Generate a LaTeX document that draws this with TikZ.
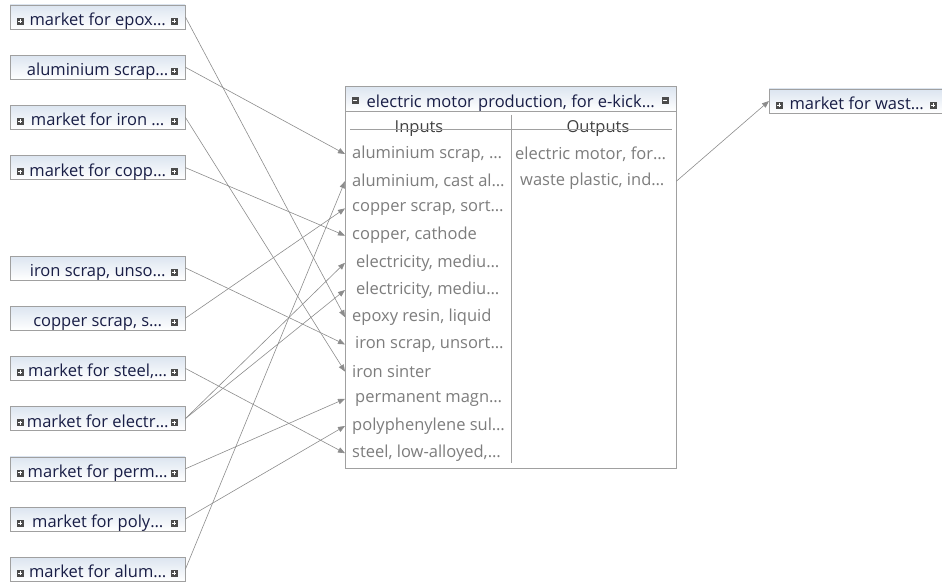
\documentclass[tikz,border=0pt]{standalone}
\usepackage{fontspec}
\setmainfont{Open Sans}
\usepackage{xcolor}
\definecolor{boxline}{RGB}{160,160,160}
\definecolor{boxtop}{RGB}{220,229,240}
\definecolor{boxtext}{RGB}{25,30,70}
\definecolor{rowtext}{RGB}{125,125,125}
\definecolor{linkgray}{RGB}{140,140,140}
\definecolor{icongray}{RGB}{75,75,75}
\usepackage{tikz}
\usetikzlibrary{arrows.meta}
\newcommand{\widthsource}{175}
\newcommand{\heightsource}{24}
\newcommand{\gapsource}{50.2}
\newcommand{\gaprow}{27.2}
\newcommand{\boxfont}{\fontsize{16.5}{18}\selectfont}
\tikzset{
    common/.style={draw=boxline, rectangle, font=\boxfont},
    source/.style={common, anchor=west, minimum width=\widthsource, minimum height=\heightsource,
        inner sep=0pt, text height=17pt, text depth=0pt, top color=boxtop, bottom color=white, text=boxtext},
    icon/.style={draw=icongray, fill=icongray, minimum size=6pt, inner sep=0pt},
    plusicon/.style={icon, path picture={
            \draw[white, line width=.9pt]
                ([xshift=-2pt]path picture bounding box.center)--([xshift=2pt]path picture bounding box.center)
                ([yshift=-2pt]path picture bounding box.center)--([yshift=2pt]path picture bounding box.center);
        }},
    minusicon/.style={icon, path picture={
            \draw[white, line width=.9pt]
                ([xshift=-2pt]path picture bounding box.center)--([xshift=2pt]path picture bounding box.center);
        }},
    plus-left/.style={label={[plusicon, anchor=center, xshift=10pt, yshift=-4pt]west:{}}},
    plus-right/.style={label={[plusicon, anchor=center, xshift=-11pt, yshift=-4pt]east:{}}},
    minus-left/.style={label={[minusicon, anchor=center, xshift=10pt, yshift=-2pt]west:{}}},
    minus-right/.style={label={[minusicon, anchor=center, xshift=-11pt, yshift=-2pt]east:{}}},
    process/.style={draw=boxline, rectangle, anchor=north west, minimum width=331, minimum height=382, fill=white},
    titlebar/.style={common, anchor=north, minimum width=331, minimum height=25, inner sep=0pt,
        text height=17pt, text depth=0pt, top color=boxtop, bottom color=white, text=boxtext},
    header/.style={anchor=base, font=\boxfont, text=black!75},
    inrow/.style={anchor=west, inner xsep=7pt, inner ysep=0pt, minimum height=\gaprow,
        text=rowtext, font=\boxfont},
    outrow/.style={inrow, inner xsep=4pt},
    link/.style={draw=linkgray, line width=.6pt, -{Triangle[length=7pt, width=5.5pt]}}
}
\begin{document}
\begin{tikzpicture}[x=1pt, y=1pt]
    \useasboundingbox (0,0) rectangle (942,-583);

    \path
        (10,-17) node[source, plus-left, plus-right] (src-epoxy) {market for epox…}
        ++(270:\gapsource) node[source, plus-right] (src-alscrap) {aluminium scrap…}
        ++(270:\gapsource) node[source, plus-left, plus-right] (src-iron) {market for iron …}
        ++(270:\gapsource) node[source, plus-left, plus-right] (src-copper) {market for copp…}
        ++(270:2*\gapsource) node[source, plus-right] (src-ironscrap) {iron scrap, unso…}
        ++(270:\gapsource) node[source, plus-right] (src-cuscrap) {copper scrap, s…}
        ++(270:\gapsource) node[source, plus-left, plus-right] (src-steel) {market for steel,…}
        ++(270:\gapsource) node[source, plus-left, plus-right] (src-elec) {market for electr…}
        ++(270:\gapsource) node[source, plus-left, plus-right] (src-magnet) {market for perm…}
        ++(270:\gapsource) node[source, plus-left, plus-right] (src-poly) {market for poly…}
        ++(270:\gapsource) node[source, plus-left, plus-right] (src-alum) {market for alum…};

    \node[process] (proc) at (345,-86) {};
    \node[titlebar, minus-left, minus-right] (proc-title) at (proc.north) {electric motor production, for e-kick…};
    \node[header] (hd-in) at (419,-133) {Inputs};
    \node[header] (hd-out) at (598,-133) {Outputs};
    \draw[boxline] ([xshift=5, yshift=-43]proc.north west) -- ([xshift=-4, yshift=-43]proc.north east);
    \draw[boxline] ([xshift=166, yshift=-29]proc.north west) -- ([xshift=166, yshift=5]proc.south west);

    \path
        (proc.north west) ++(0,-68) node[inrow] (in-alscrap) {aluminium scrap, …}
        ++(270:\gaprow) node[inrow] (in-alcast) {aluminium, cast al…}
        ++(270:\gaprow) node[inrow] (in-cuscrap) {copper scrap, sort…}
        ++(270:\gaprow) node[inrow] (in-cathode) {copper, cathode}
        ++(270:\gaprow) node[inrow] (in-elec1) {\hspace{4pt}electricity, mediu…}
        ++(270:\gaprow) node[inrow] (in-elec2) {\hspace{4pt}electricity, mediu…}
        ++(270:\gaprow) node[inrow] (in-epoxy) {epoxy resin, liquid}
        ++(270:\gaprow) node[inrow] (in-ironscrap) {\hspace{3pt}iron scrap, unsort…}
        ++(270:\gaprow) node[inrow] (in-sinter) {iron sinter}
        ++(270:\gaprow) node[inrow] (in-magnet) {\hspace{3pt}permanent magn…}
        ++(270:\gaprow) node[inrow] (in-poly) {polyphenylene sul…}
        ++(270:\gaprow) node[inrow] (in-steel) {steel, low-alloyed,…};

    \path
        (proc.north west) ++(166,-68) node[outrow] (out-motor) {electric motor, for…}
        ++(270:\gaprow) node[outrow] (out-waste) {\hspace{5pt}waste plastic, ind…};

    \node[source, plus-left, plus-right] (dst-waste) at (769,-101) {market for wast…};

    \draw[link] (src-epoxy.east) -- (in-epoxy.west);
    \draw[link] (src-alscrap.east) -- (in-alscrap.west);
    \draw[link] (src-iron.east) -- (in-sinter.west);
    \draw[link] (src-copper.east) -- (in-cathode.west);
    \draw[link] (src-ironscrap.east) -- (in-ironscrap.west);
    \draw[link] (src-cuscrap.east) -- (in-cuscrap.west);
    \draw[link] (src-steel.east) -- (in-steel.west);
    \draw[link] (src-elec.east) -- (in-elec1.west);
    \draw[link] (src-elec.east) -- (in-elec2.west);
    \draw[link] (src-magnet.east) -- (in-magnet.west);
    \draw[link] (src-poly.east) -- (in-poly.west);
    \draw[link] (src-alum.east) -- (in-alcast.west);
    \draw[link] (out-waste -| proc.east) -- (dst-waste.west);
\end{tikzpicture}
\end{document}
